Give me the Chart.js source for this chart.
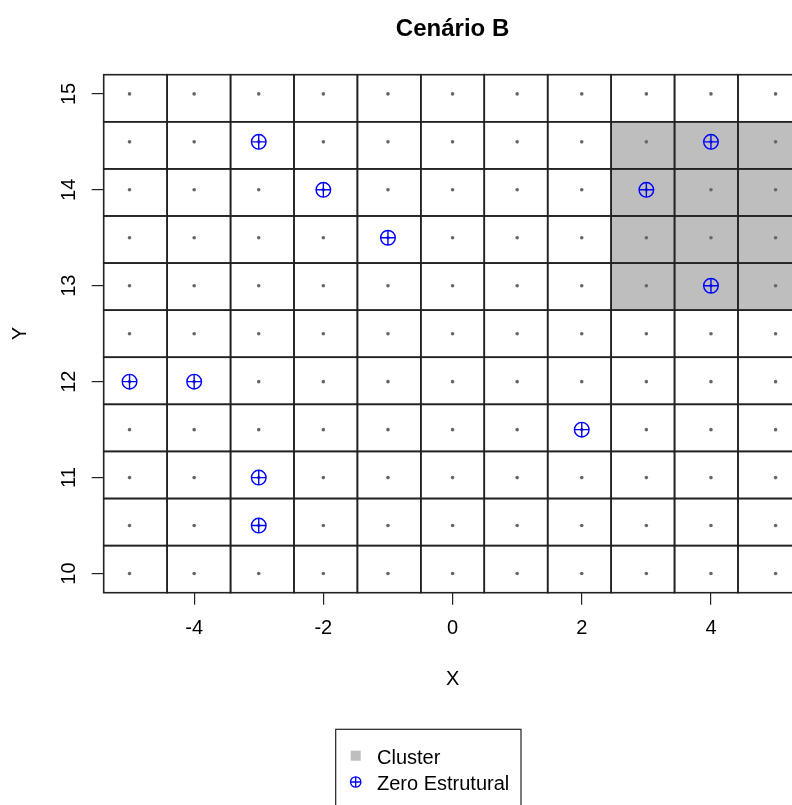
<!DOCTYPE html>
<html>
<head>
<meta charset="utf-8">
<script src="https://cdn.jsdelivr.net/npm/chart.js@4"></script>
<style>
  html, body { margin: 0; padding: 0; overflow: hidden; background: #fff; }
  canvas { display: block; }
</style>
</head>
<body>
<canvas id="grafico" width="905" height="805"></canvas>
<script>
// centros das células da grade
const xCentros = [-5, -4, -3, -2, -1, 0, 1, 2, 3, 4, 5];
const yCentros = [10, 10.5, 11, 11.5, 12, 12.5, 13, 13.5, 14, 14.5, 15];
const xLimites = [-5.4, 5.4];
const yLimites = [9.8, 15.2];

// células do cluster
const clusterX = [3, 4, 5];
const clusterY = [13, 13.5, 14, 14.5];

// zeros estruturais
const zeroX = [-3, -2, -1, -5, -4, 2, -3, -3, 4, 3, 4];
const zeroY = [14.5, 14, 13.5, 12, 12, 11.5, 11, 10.5, 14.5, 14, 13];

const xTicks = [-4, -2, 0, 2, 4];
const yTicks = [10, 11, 12, 13, 14, 15];
const rotulosLegenda = ["Cluster", "Zero Estrutural"];

const FONTE = "'Liberation Sans', Arial, sans-serif";
Chart.defaults.font.family = FONTE;

const pontos = [];
xCentros.forEach(x => yCentros.forEach(y => pontos.push({ x, y })));
const zeros = zeroX.map((x, i) => ({ x, y: zeroY[i] }));

// desenha a grade de retângulos (e o cluster em cinza)
const celulas = {
    id: "celulas",
    beforeDatasetsDraw(chart) {
        const { ctx, scales: { x, y } } = chart;
        const nc = xCentros.length, nr = yCentros.length;
        const dx = (xLimites[1] - xLimites[0]) / nc;
        const dy = (yLimites[1] - yLimites[0]) / nr;
        const ret = [];
        for (let i = 0; i < nc; i++) {
            for (let j = 0; j < nr; j++) {
                const x0 = x.getPixelForValue(xLimites[0] + i * dx);
                const x1 = x.getPixelForValue(xLimites[0] + (i + 1) * dx);
                const y0 = y.getPixelForValue(yLimites[0] + (j + 1) * dy);
                const y1 = y.getPixelForValue(yLimites[0] + j * dy);
                const cl = clusterX.includes(xCentros[i]) && clusterY.includes(yCentros[j]);
                ret.push({ x0, x1, y0, y1, cl });
            }
        }
        ctx.save();
        ctx.fillStyle = "#BEBEBE";
        ret.filter(r => r.cl).forEach(r => ctx.fillRect(r.x0, r.y0, r.x1 - r.x0, r.y1 - r.y0));
        ctx.strokeStyle = "#222";
        ctx.lineWidth = 1.6;
        ret.forEach(r => ctx.strokeRect(r.x0, r.y0, r.x1 - r.x0, r.y1 - r.y0));
        ctx.restore();
    }
};

// legenda no estilo do R
const legenda = {
    id: "legenda",
    afterDraw(chart) {
        const ctx = chart.ctx;
        ctx.save();
        ctx.strokeStyle = "#222";
        ctx.lineWidth = 1.2;
        ctx.strokeRect(335.7, 729.3, 185.3, 90);

        ctx.fillStyle = "#BEBEBE";
        ctx.fillRect(350.7, 750.7, 10, 10);

        ctx.strokeStyle = "#0000FF";
        ctx.lineWidth = 1.3;
        ctx.beginPath();
        ctx.arc(355.7, 782, 5.2, 0, Math.PI * 2);
        ctx.moveTo(350.5, 782); ctx.lineTo(360.9, 782);
        ctx.moveTo(355.7, 776.8); ctx.lineTo(355.7, 787.2);
        ctx.stroke();

        ctx.fillStyle = "#000";
        ctx.font = "20px " + FONTE;
        ctx.textBaseline = "middle";
        ctx.fillText(rotulosLegenda[0], 377, 758.5);
        ctx.fillText(rotulosLegenda[1], 377, 784);
        ctx.restore();
    }
};

new Chart(document.getElementById("grafico"), {
    type: "scatter",
    data: {
        datasets: [
            {
                label: "Zero Estrutural",
                data: zeros,
                pointStyle: "circle",
                pointRadius: 7.3,
                pointBorderColor: "#0000FF",
                pointBackgroundColor: "rgba(0,0,0,0)",
                pointBorderWidth: 1.4
            },
            {
                label: "Zero Estrutural +",
                data: zeros,
                pointStyle: "cross",
                pointRadius: 7.3,
                pointBorderColor: "#0000FF",
                pointBorderWidth: 1.4
            },
            {
                label: "Pontos",
                data: pontos,
                pointRadius: 1.8,
                pointBackgroundColor: "#666",
                pointBorderWidth: 0
            }
        ]
    },
    options: {
        responsive: false,
        animation: false,
        devicePixelRatio: 1,
        layout: { padding: { left: 0, right: 103.6, top: 0, bottom: 0 } },
        plugins: {
            legend: { display: false },
            tooltip: { enabled: false },
            title: {
                display: true,
                text: "Cenário B",
                fullSize: false,
                color: "#000",
                font: { size: 24, weight: "bold", lineHeight: 1.2 },
                padding: { top: 14.6, bottom: 31.3 }
            }
        },
        scales: {
            x: {
                type: "linear",
                min: xLimites[0],
                max: xLimites[1],
                afterBuildTicks: s => { s.ticks = xTicks.map(v => ({ value: v })); },
                afterFit: s => { s.height = 212.3; },
                grid: { drawOnChartArea: false, drawTicks: true, tickLength: 12, color: "#222", lineWidth: 1.2 },
                border: { display: false },
                ticks: { padding: 11.8, color: "#000", font: { size: 20 }, minRotation: 0, maxRotation: 0, autoSkip: false },
                title: { display: true, text: "X", color: "#000", font: { size: 20, lineHeight: 1.2 }, padding: { top: 0, bottom: 114 } }
            },
            y: {
                type: "linear",
                min: yLimites[0],
                max: yLimites[1],
                afterBuildTicks: s => { s.ticks = yTicks.map(v => ({ value: v })); },
                afterFit: s => { s.width = 103.7; },
                grid: { drawOnChartArea: false, drawTicks: true, tickLength: 12, color: "#222", lineWidth: 1.2 },
                border: { display: false },
                ticks: { padding: 10.7, color: "#000", font: { size: 20 }, minRotation: 90, maxRotation: 90, crossAlign: "center", autoSkip: false },
                title: { display: true, text: "Y", color: "#000", font: { size: 20, lineHeight: 1.2 }, padding: { top: 8.3, bottom: 0 } }
            }
        }
    },
    plugins: [celulas, legenda]
});
</script>
</body>
</html>
